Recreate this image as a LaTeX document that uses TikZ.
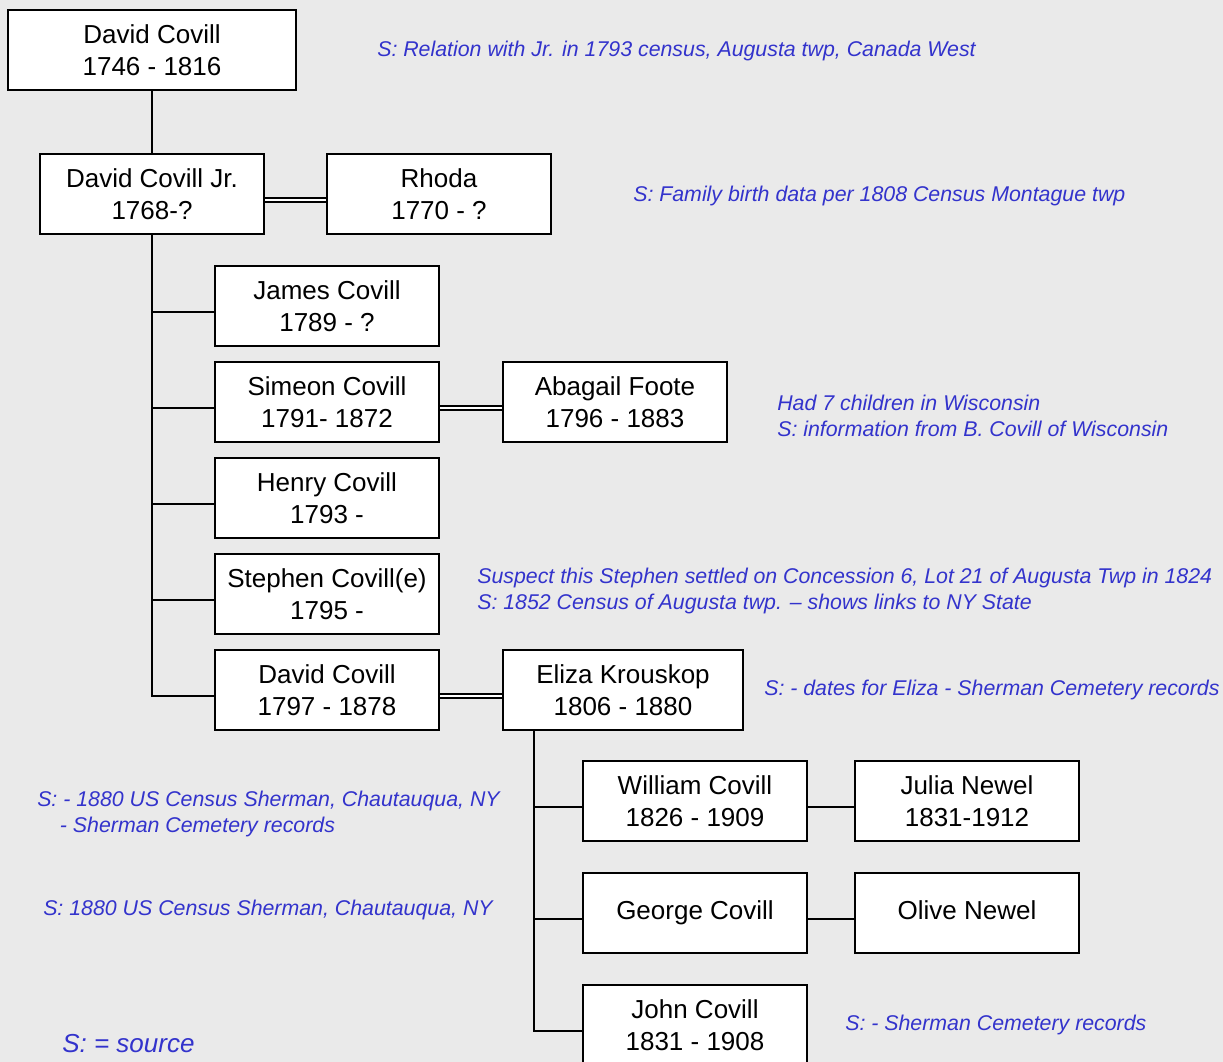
\documentclass[tikz,border=0pt]{standalone}
\usepackage{fontspec}
\setmainfont{Liberation Sans}
\definecolor{srcblue}{RGB}{51, 51, 204}
\definecolor{paper}{RGB}{234, 234, 234}

\begin{document}
\begin{tikzpicture}[x=0.75pt, y=-0.75pt]
    \tikzstyle{pblock} = [rectangle, draw=black, line width=1.5pt, fill=white,
    align=center, inner sep=0pt, minimum width=168pt, minimum height=60pt,
    font=\fontsize{19.5}{24}\selectfont];
    \tikzstyle{wblock} = [pblock, minimum width=180pt];
    \tikzstyle{rootblock} = [pblock, minimum width=216pt];
    \tikzstyle{srcnote} = [anchor=west, inner sep=0pt, text=srcblue, align=left,
    font=\fontsize{16}{19.5}\selectfont\itshape];
    \tikzstyle{line} = [draw, line width=1.2pt];
    \tikzstyle{marriage} = [draw, line width=1.5pt, double=white, double distance=1.5pt];

    \fill [paper] (0,0) rectangle (1223,1062);
    \useasboundingbox (0,0) rectangle (1223,1062);

    % Generation 1
    \node [rootblock] (dc) at (152,50) {David Covill\\1746 - 1816};
    % Generation 2
    \node [pblock] (jr) at (152,194) {David Covill Jr.\\1768-?};
    \node [pblock] (rhoda) at (439,194) {Rhoda\\1770 - ?};
    % Generation 3
    \node [pblock] (james) at (327,306) {James Covill\\1789 - ?};
    \node [pblock] (simeon) at (327,402) {Simeon Covill\\1791- 1872};
    \node [pblock] (abagail) at (615,402) {Abagail Foote\\1796 - 1883};
    \node [pblock] (henry) at (327,498) {Henry Covill\\1793 -};
    \node [pblock] (stephen) at (327,594) {Stephen Covill(e)\\1795 -};
    \node [pblock] (david) at (327,690) {David Covill\\1797 - 1878};
    \node [wblock] (eliza) at (623,690) {Eliza Krouskop\\1806 - 1880};
    % Generation 4
    \node [pblock] (william) at (695,801) {William Covill\\1826 - 1909};
    \node [pblock] (julia) at (967,801) {Julia Newel\\1831-1912};
    \node [pblock] (george) at (695,913) {\strut George Covill};
    \node [pblock] (olive) at (967,913) {\strut Olive Newel};
    \node [pblock] (john) at (695,1025) {John Covill\\1831 - 1908};

    % Sources
    \node [srcnote] (n1) at (377,51) {S: Relation with Jr. in 1793 census, Augusta twp, Canada West};
    \node [srcnote] (n2) at (633,196) {S: Family birth data per 1808 Census Montague twp};
    \node [srcnote] (n3) at (777,416) {Had 7 children in Wisconsin\\S: information from B. Covill of Wisconsin};
    \node [srcnote] (n4) at (477,591) {Suspect this Stephen settled on Concession 6, Lot 21 of Augusta Twp in 1824\\S: 1852 Census of Augusta twp. -- shows links to NY State};
    \node [srcnote] (n5) at (764,690) {S: - dates for Eliza - Sherman Cemetery records};
    \node [srcnote] (n6) at (37,814) {S: - 1880 US Census Sherman, Chautauqua, NY\\\hspace*{17pt}- Sherman Cemetery records};
    \node [srcnote] (n7) at (43,910) {S: 1880 US Census Sherman, Chautauqua, NY};
    \node [srcnote] (n8) at (845,1025) {S: - Sherman Cemetery records};
    \node [srcnote, font=\fontsize{19.5}{24}\selectfont\itshape] (key) at (62,1044) {S: = source};

    \tikzstyle{every path}=[line]
      % Drawing the links
      \draw (dc) -- (jr);
      \draw [marriage] ([yshift=-4.5pt]jr.east) -- ([yshift=-4.5pt]rhoda.west);
      \draw (jr.south) |- ([yshift=-4.5pt]david.west);
      \foreach \kid in {james, simeon, henry, stephen}
        \draw ([yshift=-4.5pt]\kid.west) -- ([yshift=-4.5pt]\kid.west -| jr.south);
      \draw [marriage] ([yshift=-4.5pt]simeon.east) -- ([yshift=-4.5pt]abagail.west);
      \draw [marriage] ([yshift=-4.5pt]david.east) -- ([yshift=-4.5pt]eliza.west);
      \coordinate (spine) at ([xshift=24pt]eliza.south west);
      \draw (spine) |- ([yshift=-4.5pt]john.west);
      \foreach \kid in {william, george}
        \draw ([yshift=-4.5pt]\kid.west) -- ([yshift=-4.5pt]\kid.west -| spine);
      \draw ([yshift=-4.5pt]william.east) -- ([yshift=-4.5pt]julia.west);
      \draw ([yshift=-4.5pt]george.east) -- ([yshift=-4.5pt]olive.west);
\end{tikzpicture}
\end{document}
